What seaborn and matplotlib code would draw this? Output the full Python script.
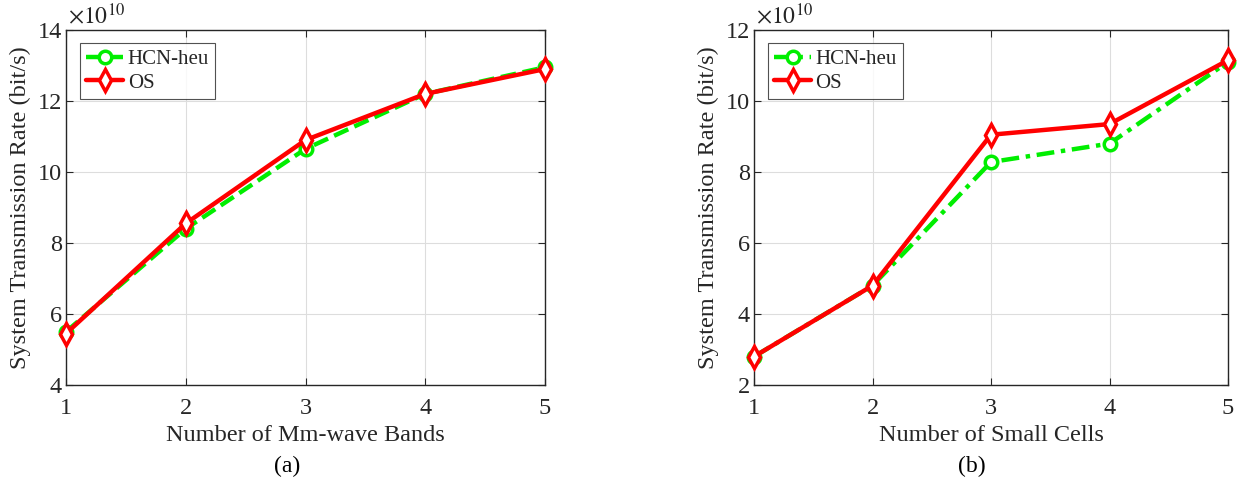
import numpy as np
import pandas as pd
import matplotlib
matplotlib.use("Agg")
import matplotlib.pyplot as plt
import seaborn as sns

x_vals = [1, 2, 3, 4, 5]
a_hcn = [5.5, 8.4, 10.65, 12.2, 12.95]
a_os = [5.45, 8.55, 10.9, 12.2, 12.9]
b_hcn = [2.8, 4.8, 8.28, 8.8, 11.1]
b_os = [2.8, 4.8, 9.05, 9.35, 11.15]
series_names = ["HCN-heu", "OS"]
xlabels = ["Number of Mm-wave Bands", "Number of Small Cells"]
captions = ["(a)", "(b)"]
ylims = [(4, 14), (2, 12)]

sns.set_theme(style="whitegrid")
plt.rcParams['font.family'] = ['Liberation Serif', 'DejaVu Serif']
plt.rcParams['mathtext.fontset'] = 'stix'

W, H = 1243, 487
fig = plt.figure(figsize=(W / 100, H / 100), dpi=100)
axes = [fig.add_axes([66/W, 1-385/H, (545-66)/W, (385-30)/H]),
        fig.add_axes([754/W, 1-385/H, (1228-754)/W, (385-30)/H])]
caption_x = [287, 972]

datasets = [(a_hcn, a_os), (b_hcn, b_os)]
for i, (ax, (hcn, os_), xl, cap, yl) in enumerate(zip(axes, datasets, xlabels, captions, ylims)):
    sns.lineplot(x=x_vals, y=hcn, ax=ax, color="#00ee00", lw=3.2,
                 linestyle=(0, (4, 1.5, 1, 1.5)) if i == 1 else (0, (3.5, 1.5)),
                 marker="o", markersize=9, markerfacecolor="white",
                 markeredgecolor="#00ee00", markeredgewidth=2.5, label=series_names[0],
                 clip_on=False, zorder=3)
    sns.lineplot(x=x_vals, y=os_, ax=ax, color="#ff0000", lw=3.2, linestyle="-",
                 marker="d", markersize=11, markerfacecolor="white",
                 markeredgecolor="#ff0000", markeredgewidth=2.5, label=series_names[1],
                 clip_on=False, zorder=4)
    ax.set_xlim(1, 5)
    ax.set_ylim(*yl)
    ax.set_xticks(x_vals)
    ax.set_yticks(np.arange(yl[0], yl[1] + 0.1, 2))
    ax.set_facecolor("white")
    ax.grid(True, color="#dddddd", lw=0.8)
    for s in ax.spines.values():
        s.set_color("#262626")
        s.set_linewidth(1.0)
        s.set_visible(True)
    ax.tick_params(direction="in", length=5, width=0.8, colors="#262626",
                   labelsize=17.5, top=True, right=True, bottom=True, left=True)
    ax.tick_params(axis="y", pad=3)
    ax.tick_params(axis="x", pad=9)
    ax.set_xlabel(xl, fontsize=17.5, color="#262626", labelpad=5)
    ax.set_ylabel("System Transmission Rate (bit/s)", fontsize=17.5, color="#262626", labelpad=5)
    ax.text(0.005, 1.005, r"$\times10^{10}$", transform=ax.transAxes, fontsize=17,
            color="#262626", ha="left", va="bottom")
    fig.text(caption_x[i] / W, 1 - 466 / H, cap, fontsize=17, color="black",
             ha="center", va="center")
    leg = ax.legend(loc="upper left", bbox_to_anchor=(0.02, 0.975), fontsize=15,
                    frameon=True, fancybox=False, handlelength=1.8, handletextpad=0.2,
                    borderpad=0.3, labelspacing=0.2, borderaxespad=0.2)
    leg.get_frame().set_edgecolor("#262626")
    leg.get_frame().set_linewidth(0.8)
    leg.set_zorder(10)

fig.savefig("out.png", dpi=100)
